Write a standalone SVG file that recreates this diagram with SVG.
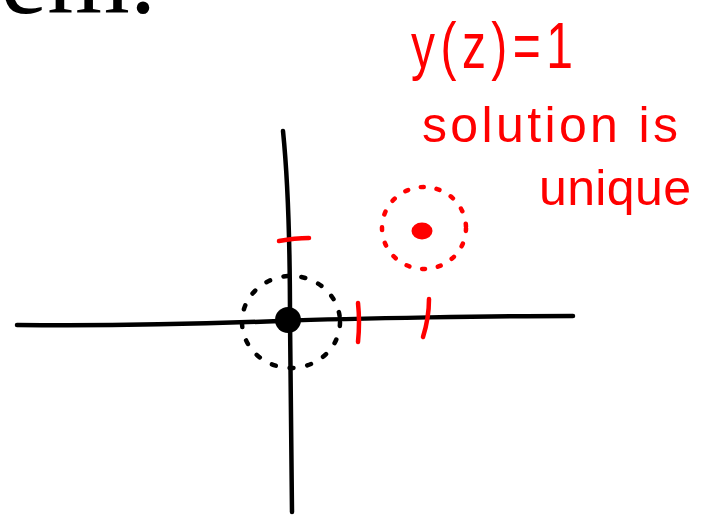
<svg xmlns="http://www.w3.org/2000/svg" width="702" height="517" viewBox="0 0 702 517">
<style>
.ax{fill:none;stroke:#000;stroke-width:4.5;stroke-linecap:round;stroke-linejoin:round}
.tick{fill:none;stroke:#f00;stroke-width:4.5;stroke-linecap:round}
.dotk{fill:none;stroke:#000;stroke-width:4.5;stroke-linecap:round;stroke-dasharray:4 14}
.dotr{fill:none;stroke:#f00;stroke-width:4.5;stroke-linecap:round;stroke-dasharray:3 13}
.hand{fill:#f00;font-family:"Liberation Sans","DejaVu Sans",sans-serif}
</style>
<rect width="702" height="517" fill="#fff"/>
<text id="heading" x="-35" y="13" font-family="Liberation Serif,serif" font-size="106" fill="#000">rem.</text>
<g id="connectors">
  <path id="x-axis" class="ax" d="M17,325 C100,326 200,324 280,321 S500,316 573,316"/>
  <path id="y-axis" class="ax" d="M283,131 Q290,200 290,320 L292,512"/>
</g>
<g id="ticks">
  <path class="tick" d="M279,241 Q295,238 309,238"/>
  <path class="tick" d="M358,303 Q360,322 358,342"/>
  <path class="tick" d="M429,299 Q429,318 423,337"/>
</g>
<g id="origin">
  <circle cx="288" cy="320" r="13" fill="#000"/>
  <ellipse class="dotk" cx="291" cy="322" rx="49" ry="46"/>
</g>
<g id="red-point">
  <ellipse cx="422" cy="231" rx="10.5" ry="8.5" fill="#f00"/>
  <ellipse class="dotr" cx="424" cy="228" rx="42" ry="41"/>
</g>
<g id="label">
  <text class="hand" transform="translate(411,68) scale(1,1.35)" font-size="48" textLength="162" lengthAdjust="spacing">y(z)=1</text>
  <text class="hand" x="422" y="142" font-size="50" textLength="256" lengthAdjust="spacing">solution is</text>
  <text class="hand" x="539" y="205" font-size="50" textLength="152" lengthAdjust="spacing">unique</text>
</g>
</svg>
